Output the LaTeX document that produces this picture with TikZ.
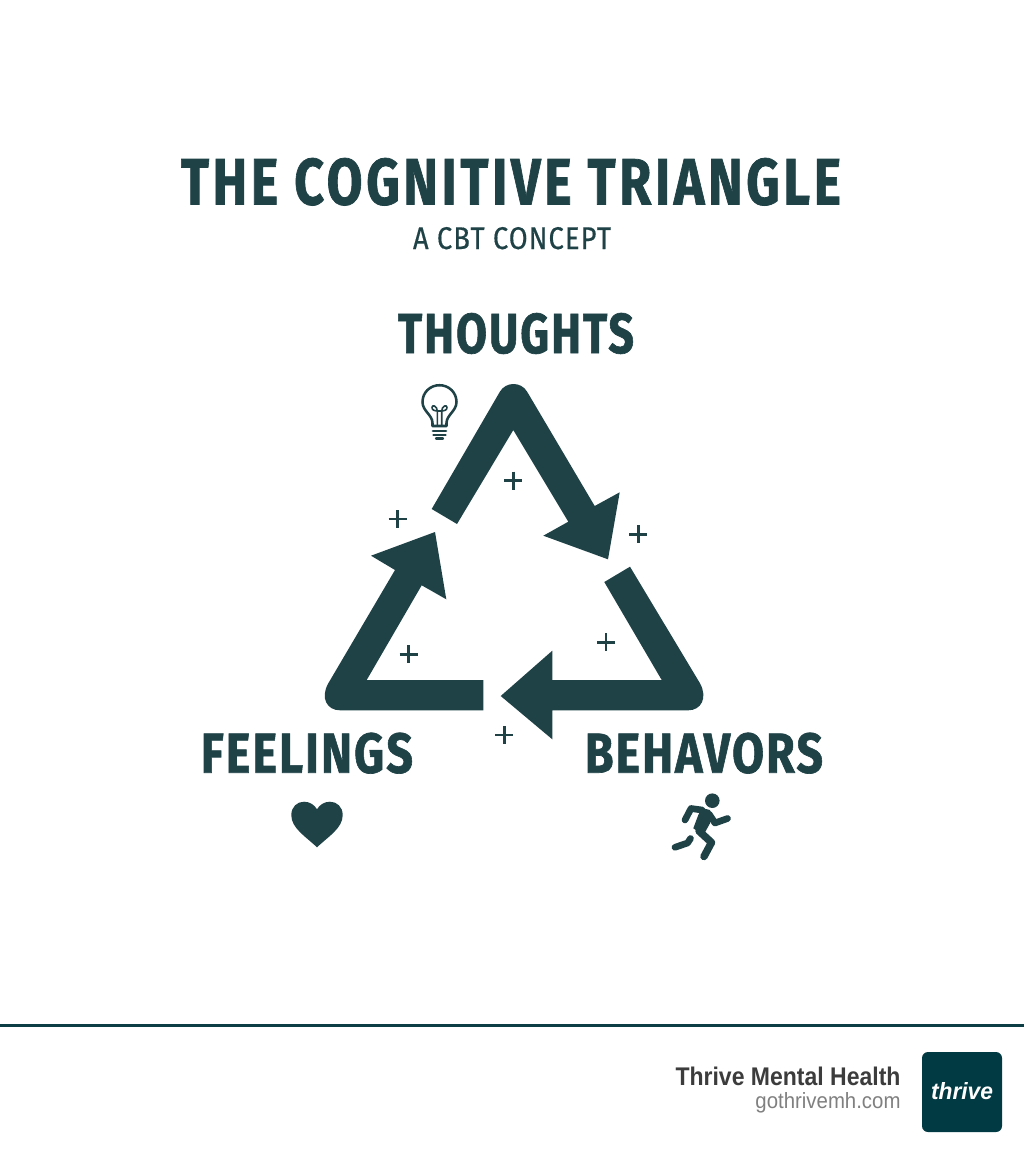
\documentclass[tikz,border=0pt]{standalone}
\usepackage{fontspec}
\usepackage{graphicx}
\setmainfont{Liberation Sans}
\newfontfamily\headfont[LetterSpace=7,BoldFeatures={FakeBold=1.2}]{Fira Sans}
\newfontfamily\labelfont[LetterSpace=4.5,BoldFeatures={FakeBold=1.2}]{Fira Sans}
\newfontfamily\plainhead[LetterSpace=4,FakeBold=0.5]{Fira Sans}
\newfontfamily\footfont{Liberation Sans}
\newfontfamily\logofont[BoldFeatures={FakeBold=0.8}]{Liberation Sans}
\definecolor{ink}{HTML}{1F4247}
\definecolor{rulecol}{HTML}{0D3D45}
\definecolor{logocol}{HTML}{023A43}
\definecolor{footdark}{HTML}{3C3C3C}
\definecolor{footgrey}{HTML}{808080}
\newdimen\fitw
\newdimen\fith
\newcommand{\fitbox}[3]{\fitw=#1pt \fitw=0.75\fitw \fith=#2pt \fith=0.75\fith \resizebox{\fitw}{\fith}{#3}}
\tikzset{
  arrowshape/.style={fill=ink,draw=none},
  label/.style={inner sep=0pt,outer sep=0pt,text=ink,anchor=base},
  footlabel/.style={inner sep=0pt,outer sep=0pt,anchor=base east},
  plusmark/.style={draw=ink,line width=1.85pt},
  iconline/.style={draw=ink,line width=1.9pt,fill=none,line cap=round,line join=round},
  limb/.style={draw=ink,fill=none,line cap=round,line join=round},
}
\begin{document}
\begin{tikzpicture}[x=0.75pt,y=-0.75pt]
\useasboundingbox (0,0) rectangle (1024,1154);
\fill[white] (0,0) rectangle (1024,1154);
% titles
\node[label] (title) at (511,204.5) {\fitbox{660}{46.5}{\headfont\bfseries THE COGNITIVE TRIANGLE}};
\node[label] (subtitle) at (512,249) {\fitbox{198}{22}{\plainhead A CBT CONCEPT}};
\node[label] (thoughts) at (516,353) {\fitbox{236}{40}{\labelfont\bfseries THOUGHTS}};
\node[label] (feelings) at (307,772.7) {\fitbox{212}{40}{\labelfont\bfseries FEELINGS}};
\node[label] (behaviors) at (704,772.7) {\fitbox{238}{40}{\labelfont\bfseries BEHAVORS}};
% triangle arrows
\fill[arrowshape] (431.7,509) -- (457,524) -- (513.3,430) -- (568.3,521.7) -- (543.3,535.7) -- (608,559.3) -- (619.7,492.3) -- (594.7,506) -- (527,391.5) .. controls (521,381.5) and (506,381.5) .. (500,391.5) -- cycle;
\fill[arrowshape] (630,566.7) -- (604.3,582) -- (661.7,680) -- (552.3,680) -- (552.3,650.7) -- (500.7,696) -- (552.3,739.3) -- (552.3,710.3) -- (688.3,710.3) .. controls (701,710.3) and (708,698) .. (700,683.3) -- cycle;
\fill[arrowshape] (483.3,680) -- (483.3,710.3) -- (340,710.3) .. controls (327,710.3) and (320,698) .. (328.3,683.3) -- (395,570) -- (371,555.7) -- (435,532) -- (446.3,599.3) -- (421.7,585.3) -- (366.7,680) -- cycle;
% plus marks
\foreach \px/\py in {513.3/480.7,397.7/519,638.3/534.3,606/642.3,408.7/654.3,504.3/735}{
  \draw[plusmark] (\px-9,\py) -- (\px+9,\py) (\px,\py-9) -- (\px,\py+9);
}
% light bulb
\draw[iconline] (432.5,426) -- (432.5,423) .. controls (432.5,415) and (422.5,411) .. (422.5,402) .. controls (422.5,392.5) and (430,385.2) .. (439.5,385.2) .. controls (449,385.2) and (456.5,392.5) .. (456.5,402) .. controls (456.5,411) and (446.5,415) .. (446.5,423) -- (446.5,426) -- cycle;
\draw[iconline,line width=1.2pt] (437.3,426) -- (437.3,411) .. controls (437.3,406) and (432,404) .. (432,407.5) .. controls (432,410.5) and (435,411) .. (439.5,411) .. controls (444,411) and (447,410.5) .. (447,407.5) .. controls (447,404) and (441.7,406) .. (441.7,411) -- (441.7,426);
\draw[iconline,line width=2.2pt] (433,431) -- (446,431);
\draw[iconline,line width=1.9pt] (433.5,435.2) -- (445.5,435.2);
\draw[iconline,line width=1.7pt] (436,438.6) -- (443,438.6);
% heart
\fill[ink] (317,847.3) .. controls (305,836) and (291.3,828) .. (291.3,815) .. controls (291.3,807) and (297,801.7) .. (304,801.7) .. controls (310,801.7) and (314.5,805) .. (317,809.3) .. controls (319.5,805) and (324,801.7) .. (330,801.7) .. controls (337,801.7) and (342.7,807) .. (342.7,815) .. controls (342.7,828) and (329,836) .. (317,847.3) -- cycle;
% runner
\fill[ink] (712.3,800.7) circle[radius=7.3];
\draw[limb,line width=5pt] (702,810) -- (691,808.5) -- (685,820);
\draw[limb,line width=5pt] (709,814) -- (715,823) -- (727.5,818.5);
\fill[ink] (701.7,808) -- (710,810) -- (710,823.3) -- (703.5,835) -- (693.3,828.3) -- (698.3,815) -- cycle;
\draw[limb,line width=5.6pt] (699,831) -- (711.5,842.5) -- (704,856.5);
\draw[limb,line width=5pt] (690.5,838.5) -- (687.5,843) -- (675,847.3);
% footer
\draw[rulecol,line width=2.25pt] (0,1025.5) -- (1024,1025.5);
\node[footlabel,text=footdark] (brand) at (900.5,1085.7) {\fitbox{225}{18.5}{\footfont\bfseries Thrive Mental Health}};
\node[footlabel,text=footgrey] (site) at (900.5,1108) {\fitbox{145}{16}{\footfont gothrivemh.com}};
\node[draw=none,fill=logocol,rounded corners=4.5pt,minimum width=60pt,minimum height=60pt,inner sep=0pt] (logo) at (962,1092) {};
\node[inner sep=0pt,text=white,anchor=base] (logotext) at (962,1099.5) {\fitbox{62}{17}{\logofont\bfseries\itshape thrive}};
\end{tikzpicture}
\end{document}
